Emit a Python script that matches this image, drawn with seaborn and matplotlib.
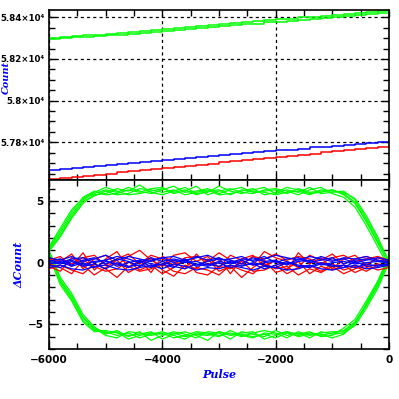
import numpy as np
import pandas as pd
import matplotlib
matplotlib.use("Agg")
import matplotlib.pyplot as plt
import seaborn as sns
from matplotlib.ticker import MultipleLocator, FuncFormatter

# ---------------- data ----------------
pulse = [-6000, -5800, -5600, -5400, -5200, -5000, -4800, -4600, -4400, -4200,
         -4000, -3800, -3600, -3400, -3200, -3000, -2800, -2600, -2400, -2200,
         -2000, -1800, -1600, -1400, -1200, -1000, -800, -600, -400, -200, 0]

# top panel: counts (staircases)
count_green_a = [58299, 58304, 58308, 58313, 58317, 58322, 58326, 58331, 58335, 58340,
                 58344, 58349, 58353, 58358, 58362, 58367, 58371, 58376, 58381, 58385,
                 58390, 58394, 58399, 58403, 58408, 58412, 58417, 58421, 58426, 58430, 58435]
count_green_b = [58297, 58300, 58303, 58306, 58309, 58313, 58317, 58321, 58325, 58330,
                 58334, 58339, 58343, 58348, 58352, 58357, 58361, 58366, 58370, 58375,
                 58379, 58384, 58388, 58393, 58397, 58402, 58406, 58411, 58415, 58420, 58424]
count_blue = [57668, 57673, 57677, 57682, 57687, 57692, 57696, 57700, 57705, 57710,
              57714, 57719, 57724, 57728, 57733, 57737, 57742, 57747, 57751, 57756,
              57761, 57765, 57770, 57775, 57779, 57784, 57788, 57793, 57798, 57802, 57807]
count_red = [57623, 57628, 57634, 57639, 57644, 57650, 57655, 57660, 57666, 57671,
             57676, 57682, 57687, 57692, 57698, 57703, 57708, 57714, 57719, 57724,
             57730, 57735, 57740, 57746, 57751, 57756, 57762, 57767, 57772, 57778, 57783]

# bottom panel: delta counts
green_upper = [
    [1.1, 2.4, 3.9, 5.1, 5.6, 5.9, 5.7, 6.1, 5.8, 5.6, 5.9, 6.2, 5.7, 5.8, 6.0, 5.6, 5.9, 6.1, 5.7, 5.8, 5.9, 5.6, 6.0, 5.7, 5.8, 5.9, 5.5, 4.8, 3.3, 1.6, -0.2],
    [0.9, 2.1, 3.6, 4.8, 5.5, 5.6, 6.0, 5.8, 6.3, 5.7, 5.5, 5.8, 6.1, 5.6, 5.7, 6.2, 5.8, 5.6, 5.9, 6.1, 5.6, 5.9, 5.7, 6.1, 5.6, 5.7, 5.8, 5.1, 3.6, 1.9, 0.1],
    [1.2, 2.6, 4.1, 5.3, 5.8, 5.5, 5.6, 5.9, 5.7, 6.0, 6.1, 5.6, 5.8, 6.2, 5.5, 5.8, 6.0, 5.7, 5.6, 5.9, 6.0, 5.8, 5.5, 5.9, 6.1, 5.6, 5.3, 4.5, 3.0, 1.3, -0.4],
    [1.0, 2.2, 3.7, 5.0, 5.4, 5.8, 5.5, 5.6, 6.0, 5.9, 5.7, 5.9, 5.5, 5.7, 5.9, 5.5, 5.6, 5.8, 6.0, 5.5, 5.7, 6.1, 5.9, 5.6, 5.7, 5.9, 5.6, 4.9, 3.4, 1.7, 0.2],
    [1.3, 2.8, 4.3, 5.2, 5.7, 6.1, 5.8, 5.5, 5.6, 5.8, 6.0, 5.7, 5.9, 5.5, 5.8, 5.9, 5.5, 5.9, 5.8, 5.7, 5.5, 5.7, 5.8, 5.5, 5.9, 5.8, 5.7, 5.2, 3.8, 2.1, 0.0],
]
green_lower = [
    [0.8, -1.5, -2.8, -4.5, -5.4, -5.6, -5.9, -5.7, -6.1, -5.8, -5.6, -5.9, -6.2, -5.7, -5.8, -6.0, -5.5, -5.9, -6.1, -5.7, -5.8, -5.6, -6.0, -5.8, -5.9, -5.7, -5.5, -4.8, -3.4, -1.8, 0.3],
    [1.0, -1.2, -2.5, -4.2, -5.2, -5.8, -5.5, -6.0, -5.6, -6.3, -5.9, -5.6, -5.8, -6.1, -5.6, -5.7, -6.2, -5.6, -5.8, -6.0, -5.5, -5.9, -5.7, -6.1, -5.6, -5.8, -5.7, -5.1, -3.7, -2.1, 0.0],
    [0.6, -1.8, -3.1, -4.8, -5.6, -5.5, -5.7, -5.9, -5.8, -5.6, -6.2, -5.8, -5.6, -5.9, -6.3, -5.6, -5.8, -5.7, -5.6, -6.2, -5.9, -5.6, -5.8, -5.6, -6.0, -5.9, -5.3, -4.6, -3.1, -1.5, 0.6],
    [0.9, -1.4, -2.7, -4.4, -5.3, -5.9, -6.1, -5.6, -5.7, -5.9, -5.7, -6.1, -5.9, -5.6, -5.7, -5.9, -5.7, -6.0, -5.7, -5.5, -5.7, -6.1, -5.6, -5.9, -5.7, -5.6, -5.6, -4.9, -3.5, -1.9, 0.2],
    [0.7, -1.6, -3.0, -4.7, -5.5, -5.7, -5.6, -6.2, -5.9, -5.7, -5.8, -5.7, -6.0, -5.8, -5.9, -5.6, -5.9, -5.8, -6.0, -5.8, -6.1, -5.7, -5.9, -5.7, -5.8, -6.1, -5.8, -5.0, -3.3, -1.6, 0.4],
]
red_runs = [
    [0.2, 0.5, -0.3, 0.8, -0.6, 0.3, 0.9, -0.4, 0.2, -0.8, 0.5, 0.1, -0.5, 0.7, -0.2, 0.4, -0.9, 0.3, 0.6, -0.3, 0.2, -0.6, 0.8, -0.1, 0.4, -0.5, 0.3, 0.6, -0.2, 0.4, 0.1],
    [-0.3, -0.7, 0.4, -0.2, -1.0, -0.4, 0.2, -0.8, -0.3, 0.4, -0.6, -1.1, -0.2, -0.5, 0.3, -0.7, -0.3, -1.2, -0.4, 0.2, -0.8, -0.5, 0.1, -0.9, -0.3, -0.6, -0.2, -0.8, -0.4, -0.1, -0.3],
    [0.4, 0.1, 0.7, -0.5, 0.3, 0.6, -0.2, 0.5, 1.0, 0.2, -0.3, 0.6, 0.8, 0.1, 0.5, -0.4, 0.6, 0.2, -0.2, 0.9, 0.4, 0.1, -0.4, 0.6, 0.2, 0.7, -0.1, 0.3, 0.5, 0.2, 0.0],
    [-0.1, -0.4, -0.9, 0.2, -0.3, -0.7, -0.5, 0.1, -0.6, -0.2, -0.9, -0.4, 0.3, -0.8, -1.0, -0.3, -0.5, 0.1, -0.7, -0.6, -0.2, -0.9, -0.4, -0.2, -0.7, -0.1, -0.6, -0.3, -0.7, -0.2, -0.1],
    [0.1, 0.3, -0.1, 0.4, 0.6, -0.2, 0.3, 0.7, -0.1, 0.6, 0.3, -0.2, 0.4, 0.5, 0.1, 0.8, 0.2, -0.1, 0.5, 0.3, 0.7, 0.2, 0.5, 0.3, -0.1, 0.4, 0.6, 0.1, 0.3, 0.5, 0.2],
    [-0.5, -0.2, -0.6, -0.9, -0.1, -0.5, -1.2, -0.3, -0.7, -0.5, -0.1, -0.7, -0.9, -0.4, -0.6, -1.0, -0.2, -0.6, -0.9, -0.1, -0.5, -0.3, -1.0, -0.5, -0.8, -0.3, -0.9, -0.5, -0.2, -0.6, -0.4],
]
blue_runs = [
    [0.1, 0.3, -0.2, 0.2, 0.4, -0.1, 0.3, 0.1, -0.3, 0.2, 0.4, 0.0, 0.3, -0.2, 0.1, 0.3, 0.2, -0.1, 0.4, 0.1, 0.2, -0.2, 0.3, 0.0, 0.2, 0.4, -0.1, 0.2, 0.3, 0.1, 0.0],
    [-0.2, -0.4, 0.1, -0.3, -0.1, -0.5, 0.0, -0.3, -0.2, -0.4, 0.1, -0.3, -0.5, -0.1, -0.3, 0.0, -0.4, -0.2, -0.1, -0.5, -0.2, 0.1, -0.3, -0.4, -0.1, -0.3, -0.2, -0.4, -0.1, -0.3, -0.1],
    [0.4, 0.2, 0.5, 0.1, 0.3, 0.6, 0.2, 0.5, 0.3, 0.1, 0.4, 0.5, 0.2, 0.4, 0.6, 0.2, 0.3, 0.5, 0.1, 0.3, 0.6, 0.4, 0.2, 0.5, 0.3, 0.1, 0.4, 0.3, 0.5, 0.2, 0.1],
    [0.0, -0.1, 0.2, -0.2, 0.1, 0.2, -0.3, 0.0, 0.2, -0.1, -0.2, 0.2, 0.0, 0.1, -0.2, 0.1, -0.1, 0.2, -0.2, 0.0, 0.1, -0.1, 0.1, 0.2, -0.2, 0.0, 0.1, -0.1, 0.0, 0.1, 0.0],
    [-0.4, -0.2, -0.5, -0.6, -0.3, -0.2, -0.5, -0.6, -0.4, -0.2, -0.5, -0.1, -0.3, -0.6, -0.4, -0.5, -0.2, -0.4, -0.6, -0.3, -0.4, -0.6, -0.5, -0.2, -0.5, -0.6, -0.4, -0.2, -0.5, -0.4, -0.2],
    [0.2, 0.0, 0.3, 0.4, 0.0, 0.2, 0.5, 0.3, 0.0, 0.4, 0.1, 0.3, 0.1, 0.5, 0.2, 0.4, 0.0, 0.3, 0.2, 0.5, 0.0, 0.3, 0.4, 0.1, 0.5, 0.2, 0.3, 0.0, 0.2, 0.4, 0.2],
    [-0.1, 0.1, -0.3, 0.0, -0.4, 0.1, -0.1, -0.4, 0.1, -0.3, -0.1, -0.4, 0.2, -0.3, -0.1, -0.3, 0.1, -0.3, 0.0, -0.2, -0.4, 0.0, -0.2, -0.3, 0.0, -0.2, -0.4, 0.1, -0.3, -0.2, -0.1],
]

x_ticks = [-6000, -4000, -2000, 0]
x_label = "Pulse"
y_label_top = "Count"
y_label_bottom = "\u0394Count"

GREEN, RED, BLUE = "#00ff00", "#ff0000", "#0000ff"

# ---------------- build tables ----------------
top_rows = []
for name, vals in [("green_a", count_green_a), ("green_b", count_green_b),
                   ("blue", count_blue), ("red", count_red)]:
    for p, v in zip(pulse, vals):
        top_rows.append({"pulse": p, "count": v, "run": name})
df_top = pd.DataFrame(top_rows)
top_pal = {"green_a": GREEN, "green_b": GREEN, "blue": BLUE, "red": RED}

bot_rows = []
def add_runs(runs, color, tag):
    for i, vals in enumerate(runs):
        for p, v in zip(pulse, vals):
            bot_rows.append({"pulse": p, "delta": v, "run": f"{tag}{i}", "color": color})
add_runs(green_upper, "green", "gu")
add_runs(green_lower, "green", "gl")
add_runs(red_runs, "red", "r")
add_runs(blue_runs, "blue", "b")
df_bot = pd.DataFrame(bot_rows)

# ---------------- figure ----------------
plt.rcParams["font.family"] = ["DejaVu Sans"]
fig = plt.figure(figsize=(3.99, 3.99), dpi=100)
ax1 = fig.add_axes([49/399, 1-180/399, 340/399, 170/399])
ax2 = fig.add_axes([49/399, 1-349/399, 340/399, 169/399])

sns.lineplot(data=df_top, x="pulse", y="count", hue="run", palette=top_pal,
             units="run", estimator=None, drawstyle="steps-post", lw=1.1,
             legend=False, ax=ax1)

for col, c in [("green", GREEN), ("red", RED), ("blue", BLUE)]:
    sub = df_bot[df_bot["color"] == col]
    sns.lineplot(data=sub, x="pulse", y="delta", units="run", estimator=None,
                 color=c, lw=0.9, legend=False, ax=ax2)

grid_kw = dict(color="black", lw=0.9, linestyle=(0, (2.5, 2.5)))
for ax in (ax1, ax2):
    ax.set_xlim(-6000, 0)
    ax.xaxis.set_major_locator(plt.FixedLocator(x_ticks))
    ax.xaxis.set_minor_locator(MultipleLocator(500))
    ax.tick_params(which="both", direction="in", top=True, right=True,
                   width=1, colors="black")
    ax.tick_params(which="major", length=5)
    ax.tick_params(which="minor", length=4)
    ax.grid(True, which="major", **grid_kw)
    ax.set_axisbelow(True)
    for s in ax.spines.values():
        s.set_linewidth(1.2)
    ax.set_facecolor("white")

ax1.set_ylim(57619, 58435)
ax1.yaxis.set_major_locator(plt.FixedLocator([57800, 58000, 58200, 58400]))
ax1.yaxis.set_minor_locator(MultipleLocator(50))
ax1.yaxis.set_major_formatter(FuncFormatter(lambda v, p: f"{v/1e4:g}\u00d710\u2074"))
ax1.tick_params(axis="x", labelbottom=False)
ax1.set_xlabel("")
ax1.set_ylabel(y_label_top, color="blue", fontsize=7, fontweight="bold",
               fontstyle="italic", family="DejaVu Serif")

ax2.set_ylim(-7.0, 6.7)
ax2.yaxis.set_major_locator(plt.FixedLocator([-5, 0, 5]))
ax2.yaxis.set_minor_locator(MultipleLocator(1))
ax2.set_xlabel(x_label, color="blue", fontsize=8, fontweight="bold",
               fontstyle="italic", family="DejaVu Serif", labelpad=3)
ax2.set_ylabel(y_label_bottom, color="blue", fontsize=8, fontweight="bold",
               fontstyle="italic", family="DejaVu Serif")

for ax in (ax1, ax2):
    for lab in ax.get_xticklabels() + ax.get_yticklabels():
        lab.set_fontsize(7.5)
        lab.set_fontweight("bold")
    ax.tick_params(which="major", pad=4)

for lab in ax1.get_yticklabels():
    lab.set_fontsize(6.2)
ax1.tick_params(axis="y", which="major", pad=3)

ax1.yaxis.set_label_coords(-0.113, 0.6)
ax2.yaxis.set_label_coords(-0.072, 0.5)

fig.savefig("out.png", dpi=100, facecolor="white")
